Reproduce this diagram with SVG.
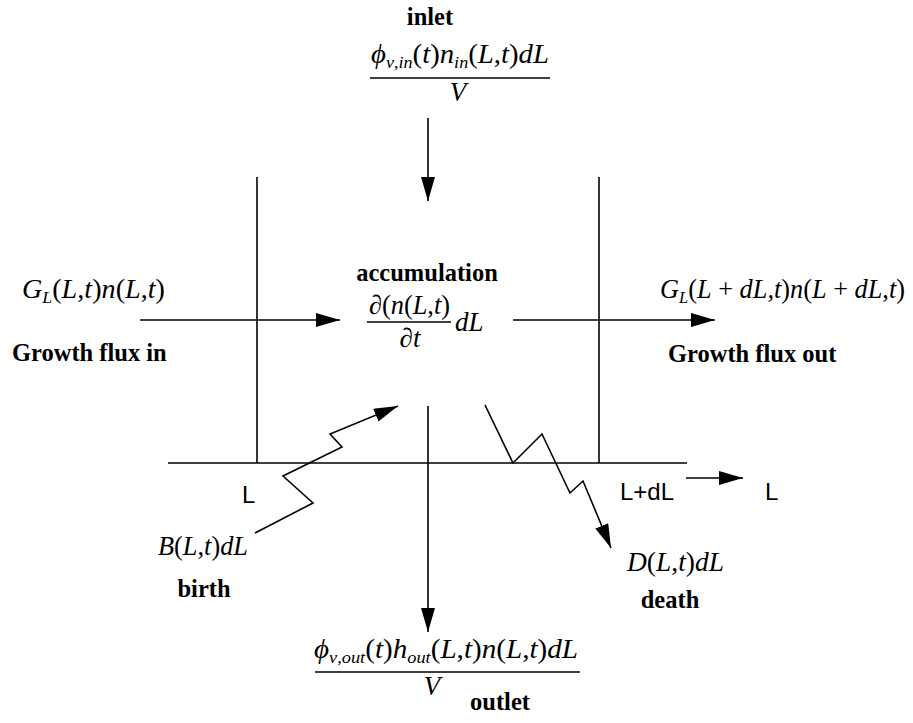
<svg xmlns="http://www.w3.org/2000/svg" width="913" height="723" viewBox="0 0 913 723">
<defs>
<marker id="ahb" viewBox="0 0 10 10" refX="10" refY="5" markerWidth="24" markerHeight="14" markerUnits="userSpaceOnUse" orient="auto" preserveAspectRatio="none"><path d="M0,0 L10,5 L0,10 z" fill="#000"/></marker>
<style>
.ln{stroke:#000;stroke-width:1.6;fill:none}
.ar{stroke:#000;stroke-width:1.6;fill:none;marker-end:url(#ahb)}
.b{font-family:"Liberation Serif","Times New Roman",serif;font-weight:bold;font-size:24.5px;fill:#000}
.m{font-family:"Liberation Serif","DejaVu Serif",serif;font-style:italic;font-size:27px;fill:#000}
.u{font-style:normal}
.s{font-size:17px}
.a{font-family:"Liberation Sans",Arial,sans-serif;font-size:24px;fill:#000}
.fl{stroke:#000;stroke-width:1.3}
</style>
</defs>
<rect width="913" height="723" fill="#fff"/>

<g id="axes">
<line class="ln" x1="257" y1="177" x2="257" y2="463"/>
<line class="ln" x1="599" y1="177" x2="599" y2="463"/>
<line class="ln" x1="168" y1="463" x2="687" y2="463"/>
</g>

<g id="connectors">
<line class="ar" x1="428" y1="118" x2="428" y2="201"/>
<line class="ar" x1="140" y1="320" x2="340" y2="320"/>
<line class="ar" x1="513" y1="320" x2="715" y2="320"/>
<line class="ar" x1="428" y1="406" x2="428" y2="632"/>
<line class="ar" x1="686" y1="478" x2="743" y2="478"/>
<polyline class="ar" points="255,533 313,503 283,476 342,447 330,434 398,406"/>
<polyline class="ar" points="485,405 513,463 542,434 570,493 583,481 611,548"/>
</g>

<g id="inlet">
<text class="b" x="430" y="25" text-anchor="middle">inlet</text>
<text class="m" x="371" y="63" textLength="178" lengthAdjust="spacingAndGlyphs">ϕ<tspan class="s" dy="5">v<tspan class="u">,</tspan>in</tspan><tspan class="u" dy="-5">(</tspan>t<tspan class="u">)</tspan>n<tspan class="s" dy="5">in</tspan><tspan class="u" dy="-5">(</tspan>L<tspan class="u">,</tspan>t<tspan class="u">)</tspan>dL</text>
<line class="fl" x1="370" y1="78" x2="550" y2="78"/>
<text class="m" x="458" y="101" text-anchor="middle">V</text>
</g>

<g id="accumulation">
<text class="b" x="427" y="281" text-anchor="middle">accumulation</text>
<text class="m" x="369" y="314" textLength="81" lengthAdjust="spacingAndGlyphs"><tspan class="u">∂(</tspan>n<tspan class="u">(</tspan>L<tspan class="u">,</tspan>t<tspan class="u">)</tspan></text>
<line class="fl" x1="367" y1="322" x2="451" y2="322"/>
<text class="m" x="410" y="347" text-anchor="middle"><tspan class="u">∂</tspan>t</text>
<text class="m" x="455" y="331">dL</text>
</g>

<g id="growth-in">
<text class="m" x="22" y="298" textLength="143" lengthAdjust="spacingAndGlyphs">G<tspan class="s" dy="5">L</tspan><tspan class="u" dy="-5">(</tspan>L<tspan class="u">,</tspan>t<tspan class="u">)</tspan>n<tspan class="u">(</tspan>L<tspan class="u">,</tspan>t<tspan class="u">)</tspan></text>
<text class="b" x="12" y="361">Growth flux in</text>
</g>

<g id="growth-out">
<text class="m" x="660" y="298" textLength="245" lengthAdjust="spacingAndGlyphs">G<tspan class="s" dy="5">L</tspan><tspan class="u" dy="-5">(</tspan>L<tspan class="u"> + </tspan>dL<tspan class="u">,</tspan>t<tspan class="u">)</tspan>n<tspan class="u">(</tspan>L<tspan class="u"> + </tspan>dL<tspan class="u">,</tspan>t<tspan class="u">)</tspan></text>
<text class="b" x="668" y="362">Growth flux out</text>
</g>

<g id="axis-labels">
<text class="a" x="242" y="503">L</text>
<text class="a" x="620" y="500">L+dL</text>
<text class="a" x="765" y="500">L</text>
</g>

<g id="birth">
<text class="m" x="158" y="555" textLength="90" lengthAdjust="spacingAndGlyphs">B<tspan class="u">(</tspan>L<tspan class="u">,</tspan>t<tspan class="u">)</tspan>dL</text>
<text class="b" x="204" y="597" text-anchor="middle">birth</text>
</g>

<g id="death">
<text class="m" x="627" y="571" textLength="97" lengthAdjust="spacingAndGlyphs">D<tspan class="u">(</tspan>L<tspan class="u">,</tspan>t<tspan class="u">)</tspan>dL</text>
<text class="b" x="670" y="608" text-anchor="middle">death</text>
</g>

<g id="outlet">
<text class="m" x="314" y="658" textLength="264" lengthAdjust="spacingAndGlyphs">ϕ<tspan class="s" dy="5">v<tspan class="u">,</tspan>out</tspan><tspan class="u" dy="-5">(</tspan>t<tspan class="u">)</tspan>h<tspan class="s" dy="5">out</tspan><tspan class="u" dy="-5">(</tspan>L<tspan class="u">,</tspan>t<tspan class="u">)</tspan>n<tspan class="u">(</tspan>L<tspan class="u">,</tspan>t<tspan class="u">)</tspan>dL</text>
<line class="fl" x1="315" y1="672" x2="580" y2="672"/>
<text class="m" x="432" y="695" text-anchor="middle">V</text>
<text class="b" x="500" y="710" text-anchor="middle">outlet</text>
</g>
</svg>
